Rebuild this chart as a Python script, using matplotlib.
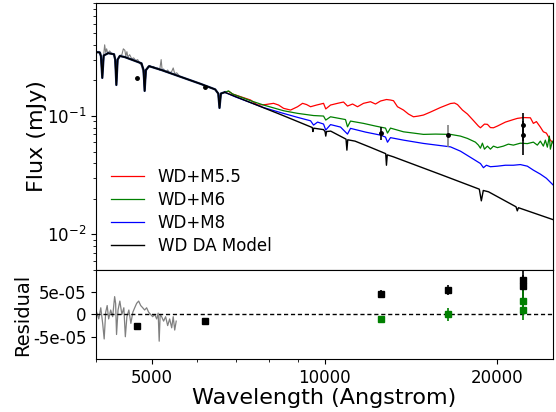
import matplotlib
matplotlib.use("Agg")
import matplotlib.pyplot as plt
from matplotlib.ticker import ScalarFormatter, NullFormatter, FixedLocator

# WD DA model (black)
wd_wave = [3950, 4060, 4080, 4102, 4125, 4200, 4300, 4320, 4340, 4362, 4400, 4490, 4700,
           4800, 4840, 4861, 4885, 4950, 5200, 6085, 6450, 6530, 6563, 6600, 6700, 7000,
           8385, 9455, 9520, 9546, 9575, 9960, 10020, 10049, 10080, 10250, 10900, 10938,
           10975, 11300, 12000, 12780, 12818, 12860, 13185, 16000, 18600, 18751, 18900,
           19300, 21550, 21661, 21760, 25250]
wd_flux = [0.348, 0.345, 0.32, 0.21, 0.325, 0.34, 0.333, 0.30, 0.183, 0.30, 0.322, 0.315, 0.29,
           0.279, 0.245, 0.163, 0.245, 0.264, 0.245, 0.187, 0.168, 0.155, 0.117, 0.155, 0.159, 0.146,
           0.103, 0.0811, 0.080, 0.074, 0.079, 0.0768, 0.074, 0.0677, 0.074, 0.0746, 0.0638, 0.0515,
           0.063, 0.0614, 0.0546, 0.0481, 0.0384, 0.047, 0.0452, 0.0318, 0.0241, 0.0192, 0.0235,
           0.0229, 0.0171, 0.0158, 0.0168, 0.0131]

# WD+M8 (blue)
m8_wave = [6700, 7000, 7832, 8384, 8975, 9455, 9569, 9725, 9960, 10049, 10243, 10663, 10965,
           11098, 11786, 12516, 12770, 12872, 13027, 13724, 14868, 16570, 17245, 18169, 18685,
           18911, 19138, 19448, 20000, 20651, 21324, 21930, 22553, 23103, 23760, 24340, 25036, 25300]
m8_flux = [0.159, 0.145, 0.118, 0.107, 0.0975, 0.0912, 0.0839, 0.0889, 0.0856, 0.0761, 0.0847,
           0.0807, 0.0704, 0.0787, 0.0732, 0.069, 0.0664, 0.0601, 0.0657, 0.0626, 0.0587, 0.0549,
           0.0505, 0.0432, 0.0397, 0.0366, 0.0384, 0.0373, 0.0377, 0.0384, 0.0384, 0.0389, 0.0377,
           0.0349, 0.0323, 0.0298, 0.026, 0.0245]

# WD+M6 (green)
m6_wave = [6700, 6806, 6916, 7434, 7832, 8486, 8975, 9569, 9960, 10049, 10243, 10876, 10965,
           11098, 11692, 12266, 12770, 12872, 13027, 13398, 13724, 14284, 14868, 15604, 16570,
           17245, 17737, 18310, 18535, 18685, 18833, 18987, 19216, 19448, 19684, 20000, 20485,
           20900, 21324, 21930, 22553, 23103, 23475, 23760, 24048, 24240, 24435, 24633, 24732,
           24930, 25130, 25330]
m6_flux = [0.159, 0.163, 0.1536, 0.1348, 0.1239, 0.1109, 0.1054, 0.101, 0.100, 0.0925, 0.0986,
           0.0934, 0.0811, 0.0907, 0.0867, 0.0823, 0.0791, 0.0718, 0.0791, 0.0761, 0.0736, 0.0718,
           0.070, 0.0704, 0.070, 0.0677, 0.0647, 0.0602, 0.0568, 0.0535, 0.059, 0.0525, 0.0557,
           0.0525, 0.0557, 0.0541, 0.0557, 0.0579, 0.0568, 0.059, 0.0585, 0.0602, 0.0568, 0.0614,
           0.0557, 0.0626, 0.0546, 0.0677, 0.0525, 0.0614, 0.0568, 0.0602]

# WD+M5.5 (red)
m55_wave = [6700, 6806, 6916, 7434, 7646, 7895, 8152, 8318, 8486, 8727, 8975, 9156, 9305, 9455,
            9685, 9960, 10049, 10243, 10534, 10790, 10965, 11190, 11414, 11692, 12024, 12266,
            12516, 12820, 13027, 13185, 13398, 13724, 14000, 14284, 14573, 14868, 15292, 15916,
            16570, 16837, 17041, 17385, 17737, 18169, 18535, 18685, 18987, 19216, 19448, 19684,
            20000, 20651, 21324, 21668, 22195, 22827, 23103, 23386, 23760, 24048, 24340, 24732,
            25036, 25330]
m55_flux = [0.159, 0.162, 0.1536, 0.1366, 0.1239, 0.1251, 0.1281, 0.1239, 0.1162, 0.1124, 0.1199,
            0.1281, 0.1251, 0.1199, 0.1239, 0.1281, 0.1149, 0.1239, 0.1281, 0.1314, 0.1215, 0.1264,
            0.1199, 0.1281, 0.1322, 0.1264, 0.134, 0.138, 0.1366, 0.1348, 0.1199, 0.1124, 0.104,
            0.0986, 0.100, 0.102, 0.1081, 0.1181, 0.1276, 0.1289, 0.1251, 0.1124, 0.104, 0.0916,
            0.0823, 0.0796, 0.0855, 0.0851, 0.0799, 0.0796, 0.0823, 0.0889, 0.0934, 0.0956, 0.0971,
            0.0967, 0.0867, 0.0898, 0.0807, 0.0736, 0.0718, 0.0626, 0.059, 0.0664]

# observed optical spectrum (gray)
spec_wave = [4010, 4044, 4077, 4100, 4125, 4141, 4158, 4174, 4191, 4225, 4259, 4293, 4318, 4340,
             4362, 4401, 4437, 4463, 4490, 4508, 4527, 4545, 4578, 4615, 4652, 4689, 4727, 4765,
             4804, 4833, 4861, 4890, 4920, 4960, 5000, 5040, 5081, 5122, 5163, 5194, 5214, 5245,
             5288, 5331, 5374, 5418, 5451, 5484, 5528, 5572]
spec_flux = [0.35, 0.352, 0.34, 0.22, 0.33, 0.40, 0.345, 0.37, 0.34, 0.355, 0.338, 0.33, 0.29, 0.19,
             0.30, 0.325, 0.33, 0.37, 0.36, 0.32, 0.35, 0.315, 0.33, 0.305, 0.31, 0.295, 0.30, 0.28,
             0.265, 0.23, 0.17, 0.235, 0.262, 0.268, 0.26, 0.262, 0.252, 0.255, 0.245, 0.30, 0.245,
             0.25, 0.237, 0.245, 0.232, 0.238, 0.255, 0.228, 0.232, 0.222]

# photometry
phot_wave = [4708, 6183]
phot_flux = [0.211, 0.177]
nir_wave = [12516, 16416, 22130, 22130]
nir_flux = [0.0713, 0.069, 0.0839, 0.069]
nir_err = [0.009, 0.0145, 0.022, 0.022]

# residuals
res_spec_wave = [4010, 4044, 4077, 4108, 4133, 4158, 4183, 4208, 4242, 4276, 4310, 4327, 4343,
                 4369, 4401, 4437, 4472, 4499, 4527, 4563, 4600, 4636, 4671, 4708, 4746, 4785,
                 4824, 4861, 4900, 4940, 4980, 5020, 5061, 5101, 5132, 5153, 5173, 5204, 5245,
                 5288, 5331, 5374, 5418, 5451, 5484, 5517]
res_spec = [0.5e-5, -1e-5, 1.5e-5, -2e-5, -5.5e-5, 0.5e-5, 2e-5, -1e-5, 1e-5, -0.5e-5, 4e-5,
            2.5e-5, -4.5e-5, 1e-5, 3e-5, 0, 1.5e-5, -5e-5, -0.5e-5, 1e-5, -2e-5, 0.5e-5, 1.5e-5,
            2.5e-5, 3e-5, 2e-5, 1.5e-5, 1e-5, 1.5e-5, 0.5e-5, 0, -0.5e-5, 0, -1e-5, 0.3e-5, -6e-5,
            0, -0.5e-5, -1.5e-5, -0.5e-5, -2.5e-5, -1e-5, -3e-5, -0.5e-5, -3.5e-5, -1.5e-5]
res_k_wave = [4708, 6183, 12516, 16416, 22130, 22130]
res_k = [-2.7e-5, -1.4e-5, 4.7e-5, 5.5e-5, 7.7e-5, 6.3e-5]
res_k_err = [0, 0, 0.9e-5, 1.2e-5, 2.5e-5, 2.5e-5]
res_g_wave = [12516, 16416, 22130, 22130]
res_g = [-1.1e-5, 0.0, 3.1e-5, 1.0e-5]
res_g_err = [0.8e-5, 1.4e-5, 2.3e-5, 2.3e-5]

fig = plt.figure(figsize=(5.56, 4.12), dpi=100)
ax1 = fig.add_axes([0.1727, 0.3447, 0.822, 0.649])
ax2 = fig.add_axes([0.1727, 0.1286, 0.822, 0.2163], sharex=ax1)

ax1.plot(spec_wave, spec_flux, color="gray", lw=0.8)
ax1.plot(m55_wave, m55_flux, color="r", lw=0.9, label="WD+M5.5")
ax1.plot(m6_wave, m6_flux, color="g", lw=0.9, label="WD+M6")
ax1.plot(m8_wave, m8_flux, color="b", lw=0.9, label="WD+M8")
ax1.plot(wd_wave[:25], wd_flux[:25], color="#0a1f5c", lw=1.6)
ax1.plot(wd_wave, wd_flux, color="k", lw=1.0, label="WD DA Model")
ax1.plot(phot_wave, phot_flux, "o", color="k", ms=2.5)
ax1.errorbar(nir_wave[:1], nir_flux[:1], yerr=nir_err[:1], fmt="o", color="k", ms=2.5, elinewidth=1.2)
ax1.errorbar(nir_wave[1:2], nir_flux[1:2], yerr=nir_err[1:2], fmt="o", color="k", ecolor="gray",
             ms=2.5, elinewidth=1.2)
ax1.errorbar(nir_wave[2:], nir_flux[2:], yerr=nir_err[2:], fmt="o", color="k", ms=2.5, elinewidth=1.2)

ax1.set_xscale("log")
ax1.set_yscale("log")
ax1.set_xlim(4000, 25000)
ax1.set_ylim(0.005, 0.91)
ax1.set_ylabel("Flux (mJy)", fontsize=16)
ax1.yaxis.set_label_coords(-0.107, 0.5)
ax1.tick_params(labelsize=12)
ax1.tick_params(axis="x", labelbottom=False)
ax1.legend(loc="lower left", frameon=False, fontsize=12, labelspacing=0.3)

ax2.plot(res_spec_wave, res_spec, color="gray", lw=0.9)
ax2.axhline(0, color="k", lw=1, ls=(0, (3, 2)))
ax2.errorbar(res_k_wave, res_k, yerr=res_k_err, fmt="s", color="k", ms=5, elinewidth=1.2)
ax2.errorbar(res_g_wave, res_g, yerr=res_g_err, fmt="s", color="g", ms=5, elinewidth=1.2)
ax2.set_ylim(-1e-4, 1e-4)
ax2.set_yticks([-5e-5, 0, 5e-5])
ax2.set_yticklabels(["-5e-05", "0", "5e-05"])
ax2.xaxis.set_major_locator(FixedLocator([5000, 10000, 20000]))
fmt = ScalarFormatter()
fmt.set_scientific(False)
ax2.xaxis.set_major_formatter(fmt)
ax2.xaxis.set_minor_formatter(NullFormatter())
ax2.tick_params(labelsize=12)
ax2.set_xlabel("Wavelength (Angstrom)", fontsize=16, labelpad=1)
ax2.set_ylabel("Residual", fontsize=14)
ax2.yaxis.set_label_coords(-0.14, 0.5)

fig.savefig("out.png", dpi=100)
